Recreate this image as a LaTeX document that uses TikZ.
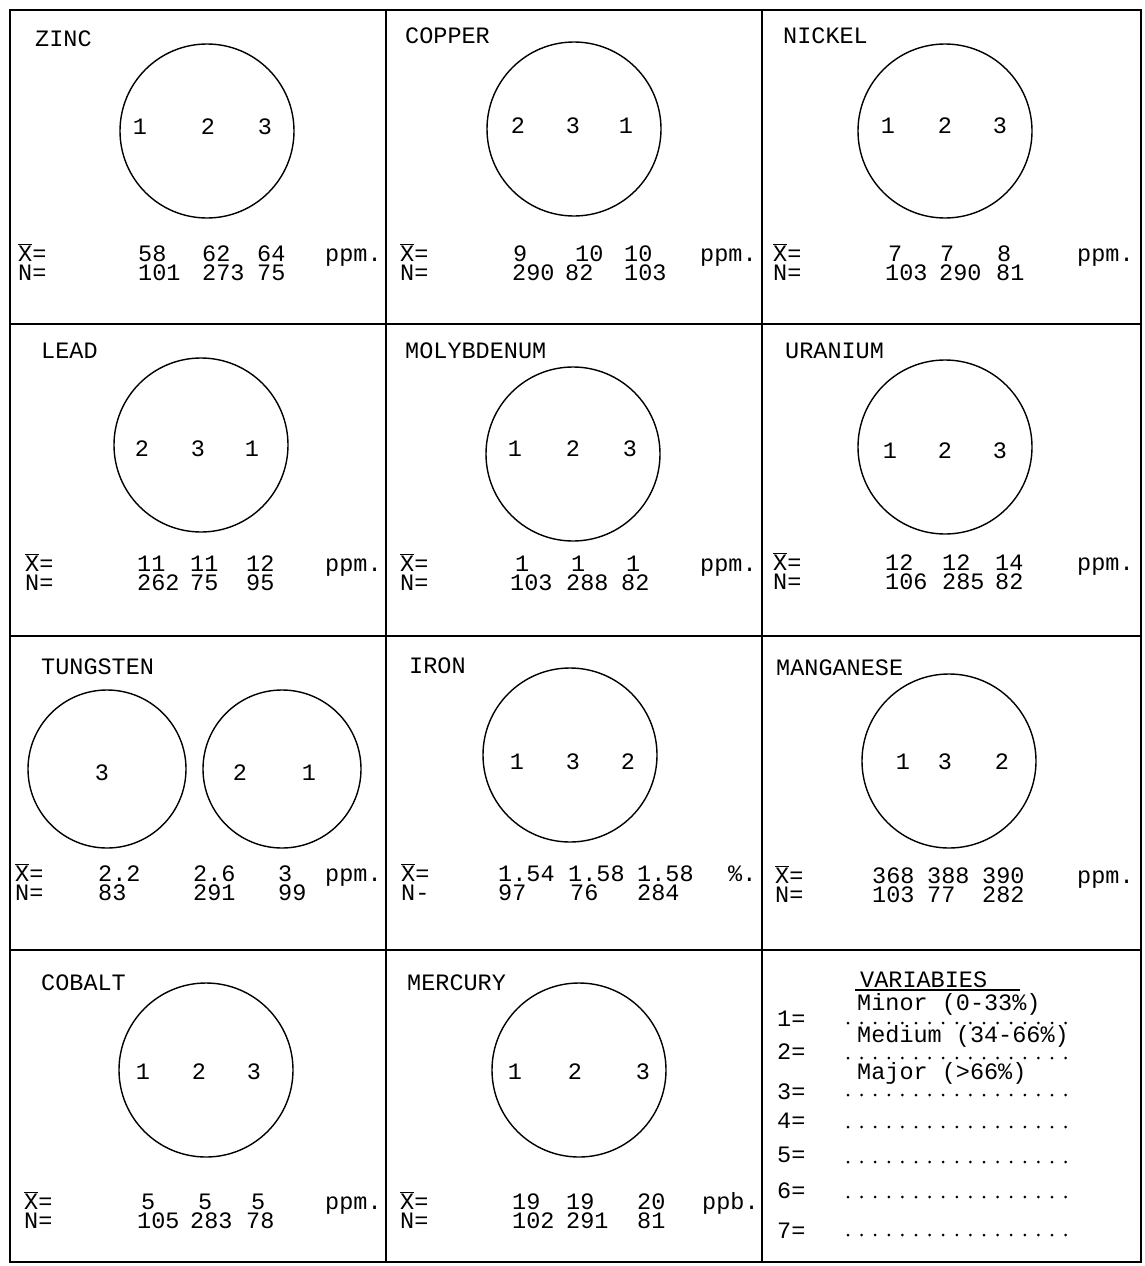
\documentclass[tikz,border=0pt]{standalone}
\usepackage{fontspec}
\newfontfamily\typewr{Liberation Mono}
\newcommand{\xmean}{\(\overline{\mbox{X}}\)=}
\begin{document}
\begin{tikzpicture}[x=1pt, y=-1pt,
    grid/.style={line width=1.5pt},
    venn/.style={draw, circle, line width=1.4pt, minimum size=174pt, inner sep=0pt},
    smallvenn/.style={venn, minimum size=158pt},
    tt/.style={font=\typewr\fontsize{23.5}{25}\selectfont, inner sep=0pt,
        text height=13pt, text depth=0pt},
    lbl/.style={tt, anchor=base west},
    dotrow/.style={line width=3pt, line cap=round, dash pattern=on 0pt off 13.6pt}]

    \useasboundingbox (0,0) rectangle (1145,1266);

    % --- Outer frame and cell dividers ---
    \draw[grid] (10,10) rectangle (1141,1262);
    \draw[grid] (386,10) -- (386,1262);
    \draw[grid] (762,10) -- (762,1262);
    \draw[grid] (10,324) -- (1141,324);
    \draw[grid] (10,636) -- (1141,636);
    \draw[grid] (10,950) -- (1141,950);

    % --- Zinc ---
    \node[lbl] (zn-title) at (35,46) {ZINC};
    \node[venn] (zn-circ) at (207,131) {};
    \node[tt] (zn-a) at (140,128) {1};
    \node[tt] (zn-b) at (208,128) {2};
    \node[tt] (zn-c) at (265,128) {3};
    \node[lbl] (zn-x) at (18,261) {\xmean};
    \node[lbl] (zn-x1) at (138,261) {58};
    \node[lbl] (zn-x2) at (202,261) {62};
    \node[lbl] (zn-x3) at (257,261) {64};
    \node[lbl] (zn-unit) at (325,261) {ppm.};
    \node[lbl] (zn-n) at (18,280) {N=};
    \node[lbl] (zn-n1) at (138,280) {101};
    \node[lbl] (zn-n2) at (202,280) {273};
    \node[lbl] (zn-n3) at (257,280) {75};

    % --- Copper ---
    \node[lbl] (cu-title) at (405,43) {COPPER};
    \node[venn] (cu-circ) at (574,129) {};
    \node[tt] (cu-a) at (518,127) {2};
    \node[tt] (cu-b) at (573,127) {3};
    \node[tt] (cu-c) at (626,127) {1};
    \node[lbl] (cu-x) at (400,261) {\xmean};
    \node[lbl] (cu-x1) at (513,261) {9};
    \node[lbl] (cu-x2) at (575,261) {10};
    \node[lbl] (cu-x3) at (624,261) {10};
    \node[lbl] (cu-unit) at (700,261) {ppm.};
    \node[lbl] (cu-n) at (400,280) {N=};
    \node[lbl] (cu-n1) at (512,280) {290};
    \node[lbl] (cu-n2) at (565,280) {82};
    \node[lbl] (cu-n3) at (624,280) {103};

    % --- Nickel ---
    \node[lbl] (ni-title) at (783,43) {NICKEL};
    \node[venn] (ni-circ) at (945,131) {};
    \node[tt] (ni-a) at (888,127) {1};
    \node[tt] (ni-b) at (945,127) {2};
    \node[tt] (ni-c) at (1000,127) {3};
    \node[lbl] (ni-x) at (773,261) {\xmean};
    \node[lbl] (ni-x1) at (888,261) {7};
    \node[lbl] (ni-x2) at (940,261) {7};
    \node[lbl] (ni-x3) at (997,261) {8};
    \node[lbl] (ni-unit) at (1077,261) {ppm.};
    \node[lbl] (ni-n) at (773,280) {N=};
    \node[lbl] (ni-n1) at (885,280) {103};
    \node[lbl] (ni-n2) at (939,280) {290};
    \node[lbl] (ni-n3) at (996,280) {81};

    % --- Lead ---
    \node[lbl] (pb-title) at (41,358) {LEAD};
    \node[venn] (pb-circ) at (201,445) {};
    \node[tt] (pb-a) at (142,450) {2};
    \node[tt] (pb-b) at (198,450) {3};
    \node[tt] (pb-c) at (252,450) {1};
    \node[lbl] (pb-x) at (25,571) {\xmean};
    \node[lbl] (pb-x1) at (137,571) {11};
    \node[lbl] (pb-x2) at (190,571) {11};
    \node[lbl] (pb-x3) at (246,571) {12};
    \node[lbl] (pb-unit) at (325,571) {ppm.};
    \node[lbl] (pb-n) at (25,590) {N=};
    \node[lbl] (pb-n1) at (137,590) {262};
    \node[lbl] (pb-n2) at (190,590) {75};
    \node[lbl] (pb-n3) at (246,590) {95};

    % --- Molybdenum ---
    \node[lbl] (mo-title) at (405,358) {MOLYBDENUM};
    \node[venn] (mo-circ) at (573,454) {};
    \node[tt] (mo-a) at (515,450) {1};
    \node[tt] (mo-b) at (573,450) {2};
    \node[tt] (mo-c) at (630,450) {3};
    \node[lbl] (mo-x) at (400,571) {\xmean};
    \node[lbl] (mo-x1) at (515,571) {1};
    \node[lbl] (mo-x2) at (571,571) {1};
    \node[lbl] (mo-x3) at (626,571) {1};
    \node[lbl] (mo-unit) at (700,571) {ppm.};
    \node[lbl] (mo-n) at (400,590) {N=};
    \node[lbl] (mo-n1) at (510,590) {103};
    \node[lbl] (mo-n2) at (566,590) {288};
    \node[lbl] (mo-n3) at (621,590) {82};

    % --- Uranium ---
    \node[lbl] (u-title) at (785,358) {URANIUM};
    \node[venn] (u-circ) at (945,447) {};
    \node[tt] (u-a) at (890,452) {1};
    \node[tt] (u-b) at (945,452) {2};
    \node[tt] (u-c) at (1000,452) {3};
    \node[lbl] (u-x) at (773,570) {\xmean};
    \node[lbl] (u-x1) at (885,570) {12};
    \node[lbl] (u-x2) at (942,570) {12};
    \node[lbl] (u-x3) at (995,570) {14};
    \node[lbl] (u-unit) at (1077,570) {ppm.};
    \node[lbl] (u-n) at (773,589) {N=};
    \node[lbl] (u-n1) at (885,589) {106};
    \node[lbl] (u-n2) at (942,589) {285};
    \node[lbl] (u-n3) at (995,589) {82};

    % --- Tungsten (two circles) ---
    \node[lbl] (w-title) at (41,674) {TUNGSTEN};
    \node[smallvenn] (w-circl) at (107,769) {};
    \node[smallvenn] (w-circr) at (282,769) {};
    \node[tt] (w-c) at (102,774) {3};
    \node[tt] (w-b) at (240,774) {2};
    \node[tt] (w-a) at (309,774) {1};
    \node[lbl] (w-x) at (15,881) {\xmean};
    \node[lbl] (w-x1) at (98,881) {2.2};
    \node[lbl] (w-x2) at (193,881) {2.6};
    \node[lbl] (w-x3) at (278,881) {3};
    \node[lbl] (w-unit) at (325,881) {ppm.};
    \node[lbl] (w-n) at (15,900) {N=};
    \node[lbl] (w-n1) at (98,900) {83};
    \node[lbl] (w-n2) at (193,900) {291};
    \node[lbl] (w-n3) at (278,900) {99};

    % --- Iron ---
    \node[lbl] (fe-title) at (409,673) {IRON};
    \node[venn] (fe-circ) at (570,755) {};
    \node[tt] (fe-a) at (517,763) {1};
    \node[tt] (fe-b) at (573,763) {3};
    \node[tt] (fe-c) at (628,763) {2};
    \node[lbl] (fe-x) at (401,881) {\xmean};
    \node[lbl] (fe-x1) at (498,881) {1.54};
    \node[lbl] (fe-x2) at (568,881) {1.58};
    \node[lbl] (fe-x3) at (637,881) {1.58};
    \node[lbl] (fe-unit) at (728,881) {\%.};
    \node[lbl] (fe-n) at (401,900) {N-};
    \node[lbl] (fe-n1) at (498,900) {97};
    \node[lbl] (fe-n2) at (570,900) {76};
    \node[lbl] (fe-n3) at (637,900) {284};

    % --- Manganese ---
    \node[lbl] (mn-title) at (776,675) {MANGANESE};
    \node[venn] (mn-circ) at (949,761) {};
    \node[tt] (mn-a) at (903,763) {1};
    \node[tt] (mn-b) at (945,763) {3};
    \node[tt] (mn-c) at (1002,763) {2};
    \node[lbl] (mn-x) at (775,883) {\xmean};
    \node[lbl] (mn-x1) at (872,883) {368};
    \node[lbl] (mn-x2) at (927,883) {388};
    \node[lbl] (mn-x3) at (982,883) {390};
    \node[lbl] (mn-unit) at (1077,883) {ppm.};
    \node[lbl] (mn-n) at (775,902) {N=};
    \node[lbl] (mn-n1) at (872,902) {103};
    \node[lbl] (mn-n2) at (927,902) {77};
    \node[lbl] (mn-n3) at (982,902) {282};

    % --- Cobalt ---
    \node[lbl] (co-title) at (41,990) {COBALT};
    \node[venn] (co-circ) at (206,1070) {};
    \node[tt] (co-a) at (143,1073) {1};
    \node[tt] (co-b) at (199,1073) {2};
    \node[tt] (co-c) at (254,1073) {3};
    \node[lbl] (co-x) at (24,1209) {\xmean};
    \node[lbl] (co-x1) at (141,1209) {5};
    \node[lbl] (co-x2) at (198,1209) {5};
    \node[lbl] (co-x3) at (251,1209) {5};
    \node[lbl] (co-unit) at (325,1209) {ppm.};
    \node[lbl] (co-n) at (24,1228) {N=};
    \node[lbl] (co-n1) at (137,1228) {105};
    \node[lbl] (co-n2) at (190,1228) {283};
    \node[lbl] (co-n3) at (246,1228) {78};

    % --- Mercury ---
    \node[lbl] (hg-title) at (407,990) {MERCURY};
    \node[venn] (hg-circ) at (579,1070) {};
    \node[tt] (hg-a) at (515,1073) {1};
    \node[tt] (hg-b) at (575,1073) {2};
    \node[tt] (hg-c) at (643,1073) {3};
    \node[lbl] (hg-x) at (400,1209) {\xmean};
    \node[lbl] (hg-x1) at (512,1209) {19};
    \node[lbl] (hg-x2) at (566,1209) {19};
    \node[lbl] (hg-x3) at (637,1209) {20};
    \node[lbl] (hg-unit) at (702,1209) {ppb.};
    \node[lbl] (hg-n) at (400,1228) {N=};
    \node[lbl] (hg-n1) at (512,1228) {102};
    \node[lbl] (hg-n2) at (566,1228) {291};
    \node[lbl] (hg-n3) at (637,1228) {81};

    % --- Variables key ---
    \node[lbl] (var-title) at (860,987) {VARIABIES};
    \draw[line width=1.2pt] (855,990) -- (1020,990);
    \node[lbl] (var-minor) at (857,1010) {Minor (0-33\%)};
    \node[lbl] (var-medium) at (857,1042) {Medium (34-66\%)};
    \node[lbl] (var-major) at (857,1079) {Major (>66\%)};
    \node[lbl] (var-1) at (777,1026) {1=};
    \node[lbl] (var-2) at (777,1059) {2=};
    \node[lbl] (var-3) at (777,1099) {3=};
    \node[lbl] (var-4) at (777,1128) {4=};
    \node[lbl] (var-5) at (777,1162) {5=};
    \node[lbl] (var-6) at (777,1198) {6=};
    \node[lbl] (var-7) at (777,1238) {7=};
    \foreach \y in {1023,1058,1095,1127,1162,1197,1235}
        \draw[dotrow] (848,\y) -- (1066,\y);
\end{tikzpicture}
\end{document}
